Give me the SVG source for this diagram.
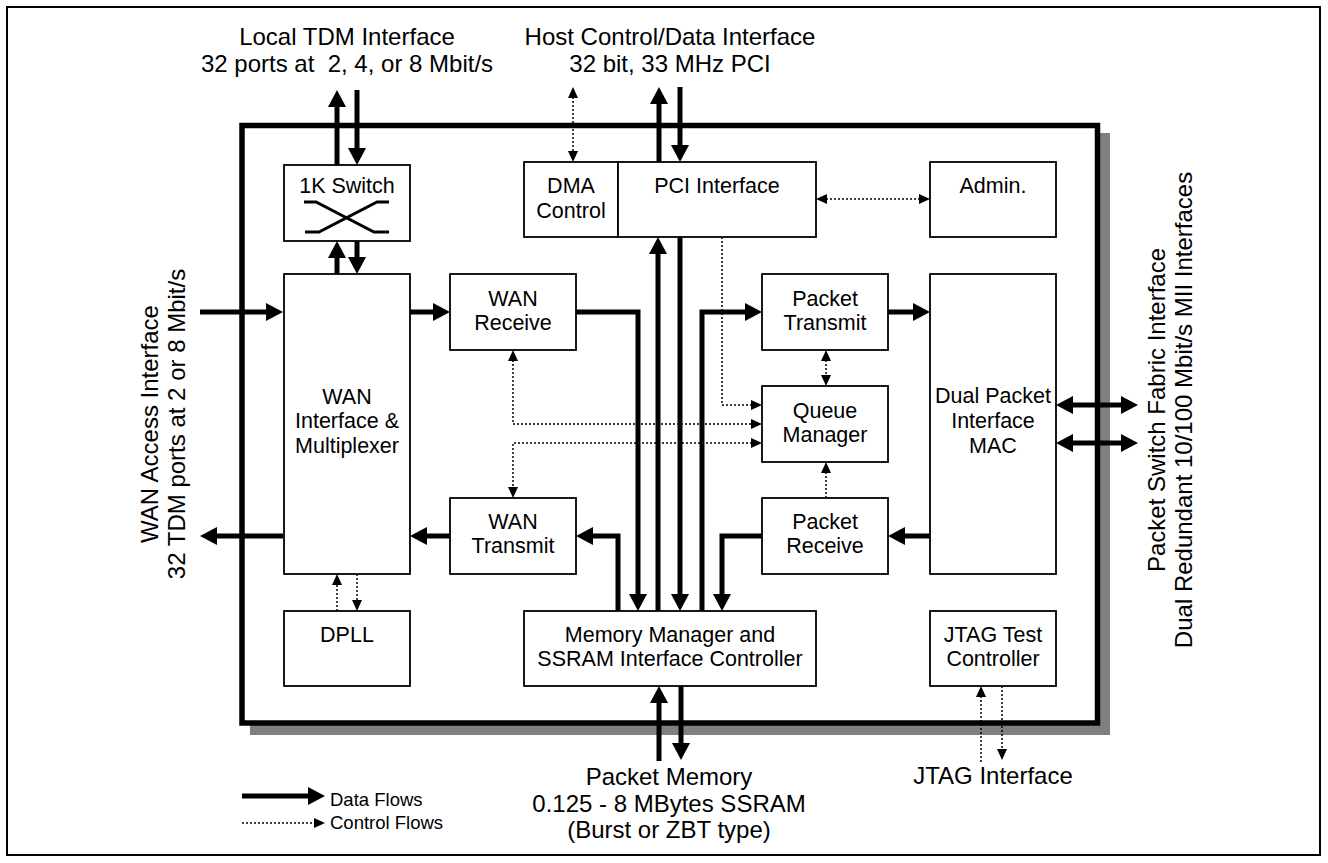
<svg xmlns="http://www.w3.org/2000/svg" width="1328" height="863" viewBox="0 0 1328 863">
<style>
.box{fill:#fff;stroke:#000;stroke-width:1.8}
.t{font-family:"Liberation Sans",Arial,sans-serif;font-size:21.5px;text-anchor:middle;fill:#000}
.tt{font-family:"Liberation Sans",Arial,sans-serif;font-size:24px;text-anchor:middle;fill:#000}
.lg{font-family:"Liberation Sans",Arial,sans-serif;font-size:18.5px;fill:#000}
.d{fill:none;stroke:#000;stroke-width:5;stroke-linejoin:miter}
.c{fill:none;stroke:#000;stroke-width:1.5;stroke-dasharray:2 2}
.da{marker-end:url(#ha)}
.dd{marker-start:url(#ha);marker-end:url(#ha)}
.ca{marker-end:url(#hc)}
.cd{marker-start:url(#hc);marker-end:url(#hc)}
</style>
<defs>
<marker id="ha" markerUnits="userSpaceOnUse" markerWidth="17" markerHeight="18" refX="7" refY="9" orient="auto-start-reverse" viewBox="0 0 17 18"><path d="M0,0 L17,9 L0,18 z" fill="#000"/></marker>
<marker id="hc" markerUnits="userSpaceOnUse" markerWidth="11" markerHeight="10" refX="5" refY="5" orient="auto-start-reverse" viewBox="0 0 11 10"><path d="M0,0 L11,5 L0,10 z" fill="#000"/></marker>
</defs>
<rect x="0" y="0" width="1328" height="863" fill="#fff"/>
<rect x="7" y="7" width="1313" height="848" fill="none" stroke="#000" stroke-width="2"/>
<g id="chip">
<rect x="250" y="133" width="860" height="602" fill="#808080"/>
<rect x="242" y="125.5" width="855.5" height="597.5" fill="#fff" stroke="#000" stroke-width="5.5"/>
</g>
<g id="switch1k">
<rect class="box" x="284" y="165" width="126" height="76"/>
<text class="t" x="347" y="193">1K Switch</text>
<path d="M304,202 H316 L374,232 H389 M305,232 H319 L377,202 H389" fill="none" stroke="#000" stroke-width="3"/>
</g>
<g id="dma">
<rect class="box" x="524" y="162" width="94" height="75"/>
<text class="t" x="571" y="193">DMA</text>
<text class="t" x="571" y="218">Control</text>
</g>
<g id="pci">
<rect class="box" x="618" y="162" width="198" height="75"/>
<text class="t" x="717" y="193">PCI Interface</text>
</g>
<g id="admin">
<rect class="box" x="930" y="162" width="126" height="75"/>
<text class="t" x="993" y="193">Admin.</text>
</g>
<g id="wanif">
<rect class="box" x="284" y="274" width="126" height="300"/>
<text class="t" x="347" y="404">WAN</text>
<text class="t" x="347" y="428">Interface &amp;</text>
<text class="t" x="347" y="453">Multiplexer</text>
</g>
<g id="wanrx">
<rect class="box" x="450" y="274" width="126" height="76"/>
<text class="t" x="513" y="306">WAN</text>
<text class="t" x="513" y="330">Receive</text>
</g>
<g id="wantx">
<rect class="box" x="450" y="498" width="126" height="76"/>
<text class="t" x="513" y="529">WAN</text>
<text class="t" x="513" y="553">Transmit</text>
</g>
<g id="pkttx">
<rect class="box" x="762" y="274" width="126" height="76"/>
<text class="t" x="825" y="306">Packet</text>
<text class="t" x="825" y="330">Transmit</text>
</g>
<g id="qm">
<rect class="box" x="762" y="386" width="126" height="76"/>
<text class="t" x="825" y="418">Queue</text>
<text class="t" x="825" y="442">Manager</text>
</g>
<g id="pktrx">
<rect class="box" x="762" y="498" width="126" height="76"/>
<text class="t" x="825" y="529">Packet</text>
<text class="t" x="825" y="553">Receive</text>
</g>
<g id="mac">
<rect class="box" x="930" y="274" width="126" height="300"/>
<text class="t" x="993" y="403">Dual Packet</text>
<text class="t" x="993" y="428">Interface</text>
<text class="t" x="993" y="453">MAC</text>
</g>
<g id="dpll">
<rect class="box" x="284" y="611" width="126" height="75"/>
<text class="t" x="347" y="642">DPLL</text>
</g>
<g id="mem">
<rect class="box" x="524" y="611" width="292" height="75"/>
<text class="t" x="670" y="642">Memory Manager and</text>
<text class="t" x="670" y="666">SSRAM Interface Controller</text>
</g>
<g id="jtag">
<rect class="box" x="930" y="611" width="126" height="75"/>
<text class="t" x="993" y="642">JTAG Test</text>
<text class="t" x="993" y="666">Controller</text>
</g>
<g id="labels">
<text class="tt" x="347" y="45">Local TDM Interface</text>
<text class="tt" x="347" y="72">32 ports at&#160; 2, 4, or 8 Mbit/s</text>
<text class="tt" x="670" y="45">Host Control/Data Interface</text>
<text class="tt" x="670" y="72">32 bit, 33 MHz PCI</text>
<text class="tt" transform="translate(158,424) rotate(-90)">WAN Access Interface</text>
<text class="tt" transform="translate(185,424) rotate(-90)">32 TDM ports at 2 or 8 Mbit/s</text>
<text class="tt" transform="translate(1165,410) rotate(-90)">Packet Switch Fabric Interface</text>
<text class="tt" transform="translate(1192,410) rotate(-90)">Dual Redundant 10/100 Mbit/s MII Interfaces</text>
<text class="tt" x="669" y="785">Packet Memory</text>
<text class="tt" x="669" y="812">0.125 - 8 MBytes SSRAM</text>
<text class="tt" x="669" y="838">(Burst or ZBT type)</text>
<text class="tt" x="993" y="784">JTAG Interface</text>
</g>
<g id="legend">
<path class="d da" d="M242,796 H315"/>
<text class="lg" x="330" y="806">Data Flows</text>
<path class="c ca" d="M242,823 H319"/>
<text class="lg" x="330" y="829">Control Flows</text>
</g>
<g id="connectors">
<path class="d da" d="M337,165 V100"/>
<path class="d da" d="M357,90 V155"/>
<path class="d da" d="M357,241 V264"/>
<path class="d da" d="M337,274 V251"/>
<path class="d da" d="M200,312 H273"/>
<path class="d da" d="M283,536 H210"/>
<path class="d da" d="M410,312 H440"/>
<path class="d da" d="M450,536 H420"/>
<path class="d da" d="M576,312 H638 V601"/>
<path class="d da" d="M618,611 V536 H586"/>
<path class="d da" d="M658,611 V247"/>
<path class="d da" d="M680,237 V601"/>
<path class="d da" d="M659,162 V97"/>
<path class="d da" d="M680,87 V152"/>
<path class="d da" d="M702,611 V312 H752"/>
<path class="d da" d="M762,536 H722 V601"/>
<path class="d da" d="M888,312 H920"/>
<path class="d da" d="M930,536 H898"/>
<path class="d dd" d="M1066,405 H1128"/>
<path class="d dd" d="M1066,443 H1128"/>
<path class="d da" d="M681,686 V750"/>
<path class="d da" d="M659,761 V696"/>
<path class="c cd" d="M573,93 V156"/>
<path class="c cd" d="M822,199 H924"/>
<path class="c ca" d="M722,237 V405 H756"/>
<path class="c cd" d="M513,356 V424 H756"/>
<path class="c cd" d="M756,443 H513 V492"/>
<path class="c cd" d="M826,356 V380"/>
<path class="c ca" d="M826,498 V468"/>
<path class="c ca" d="M337,611 V580"/>
<path class="c ca" d="M357,574 V605"/>
<path class="c ca" d="M981,762 V692"/>
<path class="c ca" d="M1002,686 V754"/>
</g>
</svg>
